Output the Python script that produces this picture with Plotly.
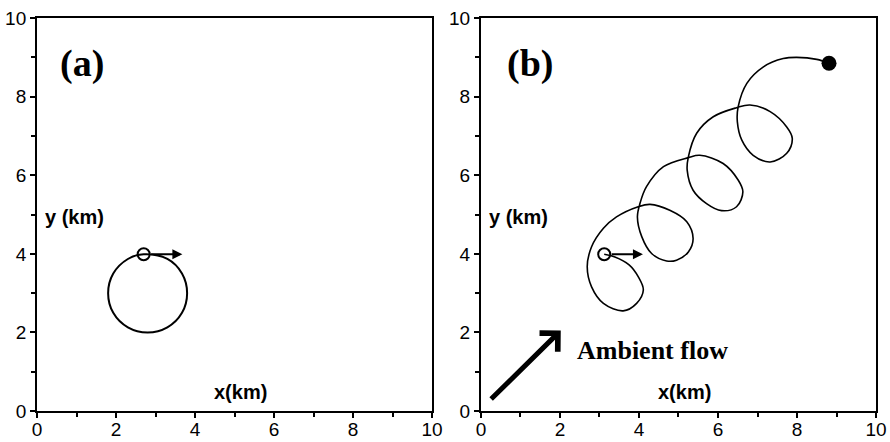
import plotly.graph_objects as go

# Panel (a): trajectory of the vortex in still environment
a_x = [2.70, 3.30, 3.67, 3.80, 3.67, 3.30, 2.80, 2.30, 1.93, 1.80, 1.93, 2.30, 2.70]
a_y = [3.99, 3.87, 3.50, 3.00, 2.50, 2.13, 2.00, 2.13, 2.50, 3.00, 3.50, 3.87, 3.99]
a_start = (2.70, 3.99)
a_arrow_tip = (3.68, 3.99)

# Panel (b): trajectory in ambient flow
b_x = [3.12, 3.39, 3.75, 3.98, 4.11, 3.94, 3.60, 3.10, 2.80, 2.69, 2.80, 3.10, 3.43,
       3.98, 4.28, 4.78, 5.21, 5.37, 5.25, 4.95, 4.70, 4.32, 4.07, 3.96, 4.03, 4.19,
       4.62, 5.25, 5.54, 6.13, 6.51, 6.63, 6.47, 6.09, 5.71, 5.37, 5.22, 5.25, 5.46,
       5.88, 6.47, 6.81, 7.32, 7.74, 7.88, 7.74, 7.32, 6.89, 6.60, 6.49, 6.51, 6.73,
       7.15, 7.65, 7.99, 8.50, 8.81]
b_y = [3.99, 3.92, 3.72, 3.42, 3.08, 2.74, 2.55, 2.74, 3.16, 3.67, 4.18, 4.65, 4.94,
       5.20, 5.26, 5.11, 4.82, 4.39, 4.05, 3.84, 3.82, 4.01, 4.44, 4.94, 5.30, 5.71,
       6.22, 6.45, 6.51, 6.30, 5.88, 5.58, 5.20, 5.10, 5.28, 5.62, 6.13, 6.47, 7.07,
       7.49, 7.72, 7.79, 7.62, 7.23, 6.94, 6.56, 6.34, 6.51, 6.90, 7.36, 7.74, 8.34,
       8.76, 8.97, 9.00, 8.95, 8.85]
b_start = (3.12, 3.99)
b_end = (8.81, 8.85)
b_arrow_tip = (4.10, 3.99)
flow_tail = (0.22, 0.27)
flow_tip = (2.02, 2.05)

tick_vals = [0, 2, 4, 6, 8, 10]
tick_text = ["0", "2", "4", "6", "8", "10"]

fig = go.Figure()

fig.add_trace(go.Scatter(x=a_x, y=a_y, mode="lines", line=dict(color="black", width=2, shape="spline"),
                         xaxis="x", yaxis="y", showlegend=False))
fig.add_trace(go.Scatter(x=[a_start[0]], y=[a_start[1]], mode="markers",
                         marker=dict(symbol="circle-open", size=12, color="black", line=dict(width=2)),
                         xaxis="x", yaxis="y", showlegend=False))

fig.add_trace(go.Scatter(x=b_x, y=b_y, mode="lines", line=dict(color="black", width=1.6, shape="spline"),
                         xaxis="x2", yaxis="y2", showlegend=False))
fig.add_trace(go.Scatter(x=[b_start[0]], y=[b_start[1]], mode="markers",
                         marker=dict(symbol="circle-open", size=12, color="black", line=dict(width=2)),
                         xaxis="x2", yaxis="y2", showlegend=False))
fig.add_trace(go.Scatter(x=[b_end[0]], y=[b_end[1]], mode="markers",
                         marker=dict(symbol="circle", size=15, color="black"),
                         xaxis="x2", yaxis="y2", showlegend=False))

axis_common = dict(range=[0, 10], showgrid=False, zeroline=False, showline=True, linecolor="black",
                   linewidth=2, mirror=True, ticks="outside", ticklen=5, tickwidth=2, tickcolor="black",
                   tickvals=tick_vals, ticktext=tick_text, automargin=False,
                   minor=dict(ticks="outside", dtick=1, tick0=1, ticklen=4, tickwidth=2, tickcolor="black"))
tf = dict(family="Liberation Sans, Arial", size=19, color="black")

fig.update_layout(
    width=890, height=442, margin=dict(l=0, r=0, t=0, b=0, autoexpand=False),
    paper_bgcolor="white", plot_bgcolor="white",
    xaxis=dict(domain=[0.0416, 0.4854], anchor="y", tickfont=tf, ticklabelstandoff=-5, **axis_common),
    yaxis=dict(domain=[0.070, 0.959], anchor="x", tickfont=tf, **axis_common),
    xaxis2=dict(domain=[0.5404, 0.9843], anchor="y2", tickfont=tf, ticklabelstandoff=-5, **axis_common),
    yaxis2=dict(domain=[0.070, 0.959], anchor="x2", tickfont=tf, **axis_common),
)

ann = []
for xr, yr, lab in [("x", "y", "(a)"), ("x2", "y2", "(b)")]:
    ann.append(dict(x=1.14 if lab == "(a)" else 1.25, y=8.85, xref=xr, yref=yr, text="<b>%s</b>" % lab,
                    showarrow=False, font=dict(family="Liberation Serif, Times New Roman", size=38, color="black")))
    ann.append(dict(x=0.96, y=4.95, xref=xr, yref=yr, text="<b>y (km)</b>", showarrow=False,
                    font=dict(family="Liberation Sans, Arial", size=20, color="black")))
    ann.append(dict(x=5.14, y=0.48, xref=xr, yref=yr, text="<b>x(km)</b>", showarrow=False,
                    font=dict(family="Liberation Sans, Arial", size=20, color="black")))

ann.append(dict(x=a_arrow_tip[0], y=a_arrow_tip[1], ax=a_start[0] + 0.15, ay=a_start[1], xref="x", yref="y",
                axref="x", ayref="y", showarrow=True, arrowhead=2, arrowwidth=2, arrowsize=1, arrowcolor="black",
                text=""))
ann.append(dict(x=b_arrow_tip[0], y=b_arrow_tip[1], ax=b_start[0] + 0.15, ay=b_start[1], xref="x2", yref="y2",
                axref="x2", ayref="y2", showarrow=True, arrowhead=2, arrowwidth=2, arrowsize=1, arrowcolor="black",
                text=""))
ann.append(dict(x=flow_tip[0], y=flow_tip[1], ax=flow_tail[0], ay=flow_tail[1], xref="x2", yref="y2",
                axref="x2", ayref="y2", showarrow=True, arrowhead=4, arrowwidth=5, arrowsize=1.0, arrowcolor="black",
                text=""))
ann.append(dict(x=4.35, y=1.55, xref="x2", yref="y2", text="<b>Ambient flow</b>", showarrow=False,
                font=dict(family="Liberation Serif, Times New Roman", size=26, color="black")))

fig.update_layout(annotations=ann)
fig.write_html("out.html")
